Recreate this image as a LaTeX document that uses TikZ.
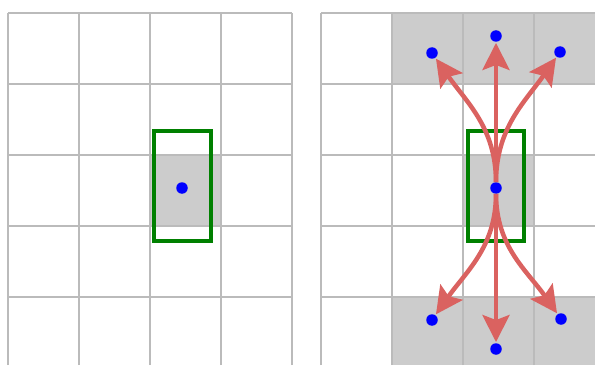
\documentclass[tikz,border=0pt]{standalone}
\usetikzlibrary{arrows.meta}
\definecolor{cellgray}{RGB}{204,204,204}
\definecolor{linegray}{RGB}{187,187,187}
\definecolor{boxgreen}{RGB}{0,128,0}
\definecolor{arrowred}{RGB}{218,98,96}
\begin{document}
\begin{tikzpicture}[
    x=1pt, y=1pt,
    gridline/.style={draw=linegray, line width=2.2pt},
    cell/.style={fill=cellgray},
    window/.style={draw=boxgreen, line width=3.2pt},
    pix/.style={circle, fill=blue, inner sep=0pt, minimum size=11.5pt},
    flow/.style={-{Stealth[length=27pt, width=27pt, inset=5pt]}, draw=arrowred, line width=4.5pt, shorten >=1pt}
]
    \useasboundingbox (0,0) rectangle (595,365);
    % shaded cells
    \fill[cell] (150,139) rectangle (221,210);
    \fill[cell] (463,139) rectangle (534,210);
    \fill[cell] (392,281) rectangle (595,352);
    \fill[cell] (392,0) rectangle (595,68);
    % grids
    \foreach \i in {0,...,4} {
        \draw[gridline] (8+71*\i,0) -- (8+71*\i,352);
        \draw[gridline] (8,352-71*\i) -- (292,352-71*\i);
        \draw[gridline] (321,352-71*\i) -- (595,352-71*\i);
    }
    \foreach \i in {0,...,3}
        \draw[gridline] (321+71*\i,0) -- (321+71*\i,352);
    % windows
    \draw[window] (154,124) rectangle (211,234);
    \draw[window] (468,124) rectangle (524,234);
    % pixels
    \node[pix] (a0) at (182,177) {};
    \node[pix] (c) at (496,177) {};
    \node[pix] (t1) at (432,312) {};
    \node[pix] (t2) at (496,329) {};
    \node[pix] (t3) at (560,313) {};
    \node[pix] (b1) at (432,45) {};
    \node[pix] (b2) at (496,16) {};
    \node[pix] (b3) at (561,46) {};
    % arrows
    \draw[flow] (c) to[out=90, in=-55] (t1);
    \draw[flow] (c) -- (t2);
    \draw[flow] (c) to[out=90, in=-125] (t3);
    \draw[flow] (c) to[out=-90, in=55] (b1);
    \draw[flow] (c) -- (b2);
    \draw[flow] (c) to[out=-90, in=125] (b3);
\end{tikzpicture}
\end{document}
